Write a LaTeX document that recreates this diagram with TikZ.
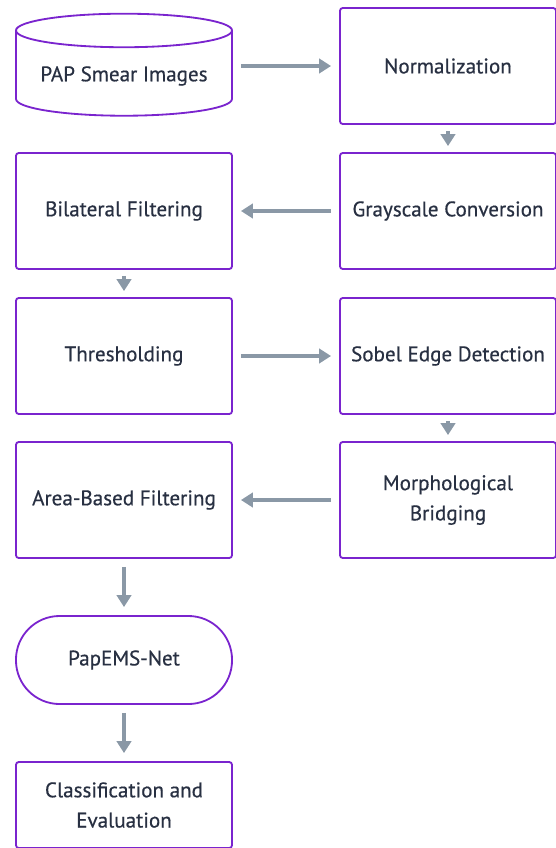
\documentclass[tikz,border=0pt]{standalone}
\usepackage{fontspec}
\setmainfont{PT Sans}[FakeBold=0.5]
\usepackage{tikz}
\usetikzlibrary{arrows.meta,positioning,shapes.geometric}
\definecolor{papPurple}{RGB}{122,36,206}
\definecolor{papInk}{RGB}{40,48,66}
\definecolor{papGray}{RGB}{138,152,166}

\begin{document}
\begin{tikzpicture}[
  x=0.025cm,y=-0.025cm,
  font=\fontsize{15}{21.5}\selectfont,
  procbox/.style={draw=papPurple,line width=1.3pt,rounded corners=2pt,align=center,text=papInk,minimum width=5.4cm,minimum height=2.9cm,fill=white},
  dbbox/.style={cylinder,shape border rotate=90,aspect=0.19,draw=papPurple,line width=1.3pt,align=center,text=papInk,minimum width=5.4cm,minimum height=2.55cm},
  termbox/.style={draw=papPurple,line width=1.3pt,rounded corners=1.09cm,align=center,text=papInk,minimum width=5.4cm,minimum height=2.2cm},
  arr/.style={-{Triangle[length=3mm,width=3.6mm]},line width=2.8pt,papGray,shorten <=0.2cm,shorten >=0.2cm},
  shortarr/.style={arr,shorten <=0.15cm,shorten >=0.15cm}
]
\useasboundingbox (0,0) rectangle (556,848);

\node[dbbox] (pap) at (124,76) {\raisebox{-0.2cm}{PAP Smear Images}};
\node[procbox] (norm) at (448,66) {Normalization};
\node[procbox] (bilat) at (124,211) {Bilateral Filtering};
\node[procbox] (gray) at (448,211) {Grayscale Conversion};
\node[procbox] (thresh) at (124,356) {Thresholding};
\node[procbox] (sobel) at (448,356) {Sobel Edge Detection};
\node[procbox] (area) at (124,500) {Area-Based Filtering};
\node[procbox] (morph) at (448,500) {Morphological\\Bridging};
\node[termbox] (net) at (124,660) {PapEMS-Net};
\node[procbox,minimum height=2.15cm] (cls) at (124,805) {Classification and\\Evaluation};

\draw[arr] (pap.east |- norm.west) -- (norm.west);
\draw[shortarr] (norm.south) -- (gray.north);
\draw[arr] (gray.west) -- (bilat.east);
\draw[shortarr] (bilat.south) -- (thresh.north);
\draw[arr] (thresh.east) -- (sobel.west);
\draw[shortarr] (sobel.south) -- (morph.north);
\draw[arr] (morph.west) -- (area.east);
\draw[arr] (area.south) -- (net.north);
\draw[arr] (net.south) -- (cls.north);
\end{tikzpicture}
\end{document}
